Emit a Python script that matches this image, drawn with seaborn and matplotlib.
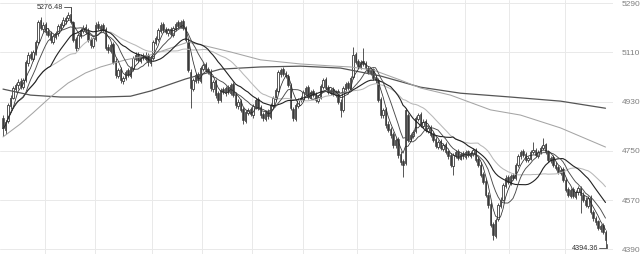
import numpy as np
import pandas as pd
import matplotlib
matplotlib.use("Agg")
import matplotlib.pyplot as plt
import seaborn as sns

# ---------------- data ----------------
opens = [4870,4825,4860,4915,4945,4975,4990,5005,4985,5010,
         5070,5105,5085,5110,5150,5230,5195,5215,5190,5180,
         5150,5165,5180,5200,5210,5225,5235,5250,5220,5160,
         5125,5170,5190,5205,5190,5160,5135,5160,5215,5195,
         5210,5195,5130,5115,5140,5080,5025,5050,5005,5015,
         5045,5025,5050,5085,5105,5080,5100,5085,5100,5070,
         5090,5145,5160,5190,5215,5195,5180,5195,5175,5195,
         5220,5205,5225,5200,5150,5040,4975,5005,5030,5005,
         5050,5068,5050,5040,4975,5005,4960,4935,4978,4960,
         4985,4962,4995,4958,4915,4932,4905,4860,4890,4905,
         4880,4910,4940,4910,4885,4868,4895,4875,4915,4940,
         4970,5030,5050,5035,5025,4990,4905,4868,4915,4935,
         4940,4962,4985,4945,4968,4958,4932,4945,4985,5012,
         4982,4962,4978,4955,4968,4930,4898,4978,4998,4978,
         5020,5105,5078,5058,5080,5070,5055,5035,5048,5020,
         5010,4940,4880,4905,4850,4830,4810,4770,4795,4740,
         4712,4705,4880,4795,4805,4822,4868,4885,4842,4858,
         4822,4838,4810,4792,4765,4785,4758,4775,4748,4735,
         4695,4732,4750,4722,4742,4728,4748,4732,4740,4755,
         4720,4700,4665,4640,4590,4555,4482,4440,4500,4550,
         4572,4622,4655,4632,4660,4650,4700,4730,4748,4738,
         4715,4722,4745,4755,4732,4745,4760,4775,4748,4715,
         4726,4700,4690,4668,4682,4645,4610,4585,4610,4582,
         4598,4616,4590,4572,4550,4580,4528,4506,4492,4465,
         4478,4455]
closes = [4832,4855,4918,4943,4980,4991,5002,4987,5009,5075,
          5101,5090,5112,5148,5222,5200,5211,5185,5174,5156,
          5170,5181,5207,5214,5229,5236,5247,5222,5156,5126,
          5174,5192,5200,5185,5156,5137,5163,5211,5200,5207,
          5192,5126,5119,5137,5075,5028,5046,5009,5016,5038,
          5028,5053,5090,5101,5083,5097,5090,5101,5075,5090,
          5148,5163,5192,5211,5192,5185,5192,5178,5200,5214,
          5207,5222,5200,5156,5046,4980,5009,5028,5009,5053,
          5064,5046,5038,4980,5002,4954,4936,4973,4965,4980,
          4965,4991,4954,4918,4929,4900,4863,4892,4900,4885,
          4914,4936,4907,4881,4870,4892,4878,4918,4943,4973,
          5038,5046,5031,5024,4991,4907,4870,4918,4936,4943,
          4965,4980,4947,4965,4954,4936,4947,4987,5009,4980,
          4965,4973,4958,4965,4929,4900,4980,4994,4980,5016,
          5101,5075,5061,5075,5068,5053,5038,5046,5016,5009,
          4936,4881,4900,4845,4826,4808,4772,4790,4735,4709,
          4700,4900,4790,4808,4819,4870,4881,4845,4856,4826,
          4834,4808,4790,4768,4783,4761,4772,4746,4731,4698,
          4735,4746,4724,4739,4731,4746,4735,4742,4753,4717,
          4698,4662,4636,4588,4552,4479,4442,4497,4552,4570,
          4625,4651,4636,4658,4651,4698,4731,4746,4735,4717,
          4724,4746,4753,4735,4746,4761,4772,4746,4717,4724,
          4698,4687,4672,4680,4643,4607,4588,4607,4585,4600,
          4614,4588,4570,4552,4578,4526,4504,4490,4468,4475,
          4453,4424]
highs = [4880,4862,4925,4955,4988,5000,5012,5015,5018,5082,
         5110,5115,5120,5155,5230,5240,5220,5222,5198,5188,
         5178,5190,5215,5222,5238,5245,5258,5276.48,5226,5165,
         5180,5200,5210,5214,5198,5168,5170,5220,5225,5215,
         5218,5202,5140,5145,5148,5088,5055,5058,5024,5045,
         5052,5060,5098,5110,5112,5104,5108,5110,5108,5098,
         5155,5172,5200,5220,5222,5202,5200,5203,5208,5222,
         5228,5230,5232,5208,5158,5050,5018,5036,5038,5060,
         5072,5075,5058,5048,5010,5012,4968,4980,4985,4988,
         4992,4998,5002,4965,4938,4940,4912,4900,4908,4912,
         4920,4945,4948,4918,4892,4900,4902,4925,4950,4980,
         5045,5055,5058,5042,5032,4998,4912,4925,4942,4952,
         4972,4988,4992,4972,4975,4965,4955,4995,5018,5020,
         4990,4980,4985,4972,4975,4938,4986,5002,5005,5024,
         5130,5112,5085,5082,5126,5078,5062,5052,5055,5028,
         5018,4948,4908,4912,4858,4838,4818,4798,4802,4748,
         4720,4908,4888,4815,4828,4878,4890,4892,4865,4865,
         4842,4845,4818,4800,4790,4792,4780,4782,4755,4742,
         4742,4755,4758,4746,4750,4752,4755,4750,4760,4762,
         4728,4708,4672,4648,4598,4562,4490,4505,4560,4580,
         4632,4660,4662,4665,4668,4705,4738,4755,4756,4745,
         4732,4752,4782,4762,4752,4768,4796,4780,4752,4732,
         4735,4708,4698,4688,4690,4652,4618,4615,4618,4608,
         4622,4622,4598,4580,4585,4588,4535,4512,4498,4482,
         4485,4462]
lows = [4805,4812,4852,4905,4938,4965,4978,4975,4978,5002,
        5062,5082,5078,5102,5142,5192,5185,5175,5165,5145,
        5140,5158,5172,5192,5202,5215,5228,5215,5150,5115,
        5118,5162,5182,5178,5148,5128,5126,5152,5192,5188,
        5185,5118,5108,5108,5068,5018,5015,5000,4995,5008,
        5020,5018,5042,5078,5076,5072,5082,5078,5062,5062,
        5082,5138,5152,5182,5185,5176,5172,5170,5168,5188,
        5198,5198,5192,5148,5038,4907,4968,4998,5000,4998,
        5042,5040,5030,4970,4965,4945,4925,4928,4958,4952,
        4958,4955,4946,4908,4905,4892,4850,4852,4882,4876,
        4872,4902,4898,4872,4860,4860,4868,4868,4908,4932,
        4962,5022,5025,5015,4982,4898,4860,4860,4908,4928,
        4932,4955,4940,4938,4946,4928,4925,4938,4978,4972,
        4958,4955,4950,4948,4920,4875,4892,4970,4972,4970,
        5012,5068,5052,5050,5060,5045,5030,5028,5008,5000,
        4928,4872,4870,4835,4818,4798,4762,4762,4725,4700,
        4655,4698,4782,4785,4798,4815,4860,4838,4835,4818,
        4815,4800,4782,4760,4758,4752,4750,4738,4722,4690,
        4660,4725,4716,4715,4722,4720,4728,4725,4732,4710,
        4690,4655,4628,4580,4540,4470,4424,4432,4492,4540,
        4565,4615,4628,4625,4642,4645,4692,4722,4728,4710,
        4708,4715,4738,4728,4725,4738,4752,4740,4710,4705,
        4690,4680,4665,4660,4635,4598,4580,4578,4576,4575,
        4590,4522,4562,4545,4542,4518,4495,4480,4460,4455,
        4445,4394.36]

# long moving averages (candle index, value)
ma60_idx = [0, 7, 12, 19, 26, 33, 39, 49, 59, 67, 74, 81, 91, 103, 119, 131,
            139, 148, 159, 167, 179, 195, 207, 223, 241]
ma60_val = [4801, 4849, 4889, 4947, 4998, 5035, 5057, 5083, 5101, 5126, 5148,
            5134, 5112, 5083, 5068, 5061, 5057, 5046, 5009, 4980, 4954, 4900,
            4881, 4834, 4764]
ma120_idx = [0, 11, 23, 39, 51, 59, 73, 87, 103, 119, 135, 151, 167, 183, 203, 223, 241]
ma120_val = [4976, 4954, 4947, 4947, 4950, 4969, 5013, 5049, 5057, 5060, 5053,
             5024, 4983, 4961, 4947, 4932, 4906]

y_ticks = [5290, 5110, 4930, 4750, 4570, 4390]
month_grid = [16.8, 36.8, 59.6, 79.6, 99.6, 120, 141.6, 164, 184.8, 202.4, 224.8]
max_label = "5276.48"
min_label = "4394.36"

# ---------------- plot ----------------
sns.set_theme(style="white")
plt.rcParams['font.family'] = ['Liberation Sans', 'DejaVu Sans']

df = pd.DataFrame({"o": opens, "h": highs, "l": lows, "c": closes})
df["i"] = np.arange(len(df))
for n in (5, 10, 20, 30):
    df[f"ma{n}"] = df["c"].rolling(n, min_periods=1).mean()

fig = plt.figure(figsize=(6.43, 2.54), dpi=100)
ax = fig.add_axes([0, 0, 613 / 643, 1])

ax.set_xlim(-1.2, 244)
ax.set_ylim(4372.7, 5302)

for g in month_grid:
    ax.axvline(g, color="#e9e9e9", lw=0.7, zorder=0)
for t in y_ticks:
    ax.axhline(t, color="#e9e9e9", lw=0.7, zorder=0)

# candles
up = df["c"] >= df["o"]
ax.vlines(df["i"], df["l"], df["h"], color="#3a3a3a", lw=0.6, zorder=2)
w = 0.6
body_lo = np.minimum(df["o"], df["c"])
body_h = np.abs(df["c"] - df["o"]).clip(lower=2)
ax.bar(df["i"][up], body_h[up], bottom=body_lo[up], width=w,
       facecolor="white", edgecolor="#3a3a3a", linewidth=0.6, zorder=3)
ax.bar(df["i"][~up], body_h[~up], bottom=body_lo[~up], width=w,
       facecolor="#3a3a3a", edgecolor="#3a3a3a", linewidth=0.4, zorder=3)

# moving averages
sns.lineplot(x=ma120_idx, y=ma120_val, ax=ax, color="#555555", lw=0.9, zorder=4)
sns.lineplot(x=ma60_idx, y=ma60_val, ax=ax, color="#a5a5a5", lw=0.75, zorder=4)
sns.lineplot(data=df, x="i", y="ma30", ax=ax, color="#b8b8b8", lw=0.75, zorder=4)
sns.lineplot(data=df, x="i", y="ma20", ax=ax, color="#222222", lw=0.8, zorder=5)
sns.lineplot(data=df, x="i", y="ma10", ax=ax, color="#4a4a4a", lw=0.65, zorder=5)
sns.lineplot(data=df, x="i", y="ma5", ax=ax, color="#2a2a2a", lw=0.55, zorder=5)

# max / min annotations
imax = int(np.argmax(highs))
imin = int(np.argmin(lows))
hmax = highs[imax]
lmin = lows[imin]
ytxt = 5276
ax.plot([imax - 2.6, imax, imax], [ytxt, ytxt, hmax - 18], color="#444", lw=0.6, zorder=6)
ax.text(imax - 3.0, ytxt, max_label, ha="right", va="center", fontsize=5.2, color="#333")
ax.plot([imin - 2.6, imin + 0.6, imin + 0.6], [lmin - 1, lmin - 1, lmin + 14], color="#444", lw=0.6, zorder=6)
ax.text(imin - 3.0, lmin - 1, min_label, ha="right", va="center", fontsize=5.2, color="#333")

ax.set_xticks([])
ax.yaxis.tick_right()
ax.set_yticks(y_ticks)
ax.set_yticklabels([str(t) for t in y_ticks])
ax.tick_params(axis="y", length=0, pad=6.5, labelsize=6, labelcolor="#808080")
ax.set_xlabel("")
ax.set_ylabel("")
for s in ax.spines.values():
    s.set_visible(False)

fig.savefig("out.png", dpi=100)
